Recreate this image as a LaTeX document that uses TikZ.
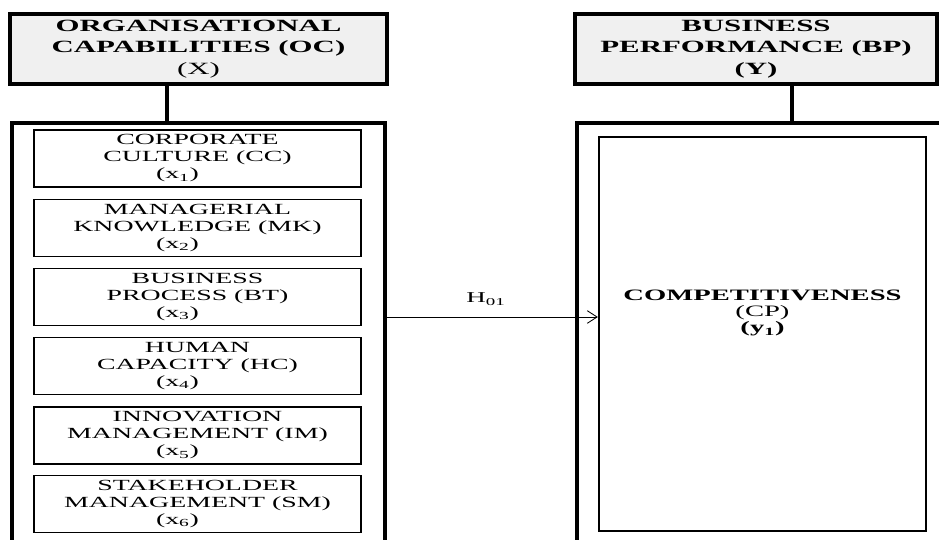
\documentclass[tikz,border=0pt]{standalone}
\usepackage{fontspec}
\setmainfont{Liberation Serif}[FakeStretch=1.8]
\usepackage{tikz}
\usetikzlibrary{arrows.meta, positioning}
\definecolor{headgray}{RGB}{240, 240, 240}

\begin{document}
\begin{tikzpicture}[x=0.025cm, y=-0.025cm,
  headbox/.style={draw, line width=2.5pt, fill=headgray, minimum height=1.75cm, align=center, font=\fontsize{12.2}{15.3}\selectfont\bfseries},
  panel/.style={draw, line width=3pt, minimum height=11.175cm},
  itembox/.style={draw, line width=0.8pt, minimum width=8.175cm, minimum height=1.35cm, align=center, font=\fontsize{11}{12.1}\selectfont},
  link/.style={line width=2.2pt}]
  \useasboundingbox (0, 0) rectangle (939, 539);

  % ===== ORGANISATIONAL CAPABILITIES (left) =====
  \node[headbox, minimum width=9.425cm] (oc) at (198.5, 49) {ORGANISATIONAL\\CAPABILITIES (OC)\\\mdseries(X)};
  \node[panel, minimum width=9.325cm] (ocpanel) at (198.5, 346.5) {};
  \coordinate (ocx) at (167, 0);
  \draw[link] (oc.south -| ocx) -- (ocpanel.north -| ocx);

  \node[itembox] (cc) at (197.5, 158.5) {CORPORATE\\CULTURE (CC)\\(x\textsubscript{1})\hspace*{1cm}};
  \node[itembox] (mk) at (197.5, 228) {MANAGERIAL\\KNOWLEDGE (MK)\\(x\textsubscript{2})\hspace*{1cm}};
  \node[itembox] (bt) at (197.5, 297) {BUSINESS\\PROCESS (BT)\\(x\textsubscript{3})\hspace*{1cm}};
  \node[itembox] (hc) at (197.5, 366) {HUMAN\\CAPACITY (HC)\\(x\textsubscript{4})\hspace*{1cm}};
  \node[itembox] (im) at (197.5, 435.5) {INNOVATION\\MANAGEMENT (IM)\\(x\textsubscript{5})\hspace*{1cm}};
  \node[itembox] (sm) at (197.5, 504) {STAKEHOLDER\\MANAGEMENT (SM)\\(x\textsubscript{6})\hspace*{1cm}};

  % ===== BUSINESS PERFORMANCE (right) =====
  \node[headbox, minimum width=9.05cm] (bp) at (756, 49) {BUSINESS\\PERFORMANCE (BP)\\(Y)};
  \node[panel, minimum width=9.825cm] (bppanel) at (773.5, 346.5) {};
  \coordinate (bpx) at (792, 0);
  \draw[link] (bp.south -| bpx) -- (bppanel.north -| bpx);

  \node[draw, line width=1.6pt, minimum width=8.175cm, minimum height=9.85cm] (cp) at (762.5, 334) {};
  \node[align=center, font=\fontsize{11.3}{11.5}\selectfont\bfseries] (cptext) at (762.5, 313) {COMPETITIVENESS\\\mdseries(CP)\\(y\textsubscript{1})};

  % Hypothesis
  \coordinate (hy) at (0, 317);
  \draw[-{Straight Barb[length=7pt, width=9pt]}, line width=0.6pt] (ocpanel.east |- hy) -- (cp.west |- hy);
  \node[font=\fontsize{10.7}{12}\selectfont] (h01) at (486, 299) {H\textsubscript{01}};
\end{tikzpicture}
\end{document}
